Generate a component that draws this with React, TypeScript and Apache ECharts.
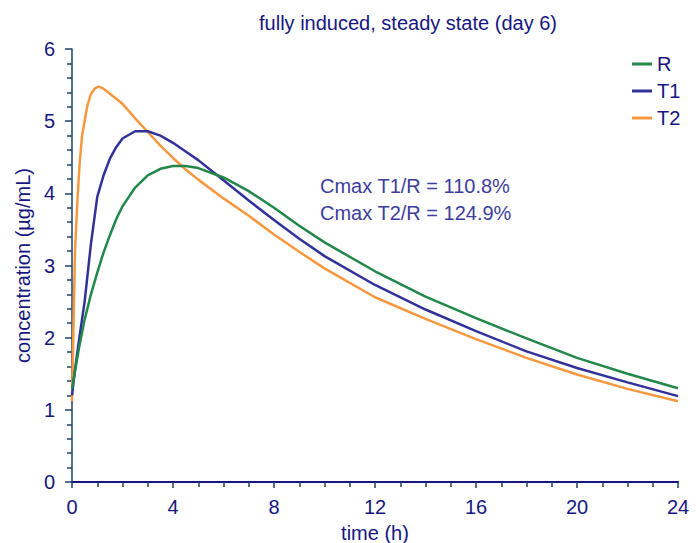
import React, { useEffect, useRef } from "react";
import * as echarts from "echarts";

const title = "fully induced, steady state (day 6)";
const xName = "time (h)";
const yName = "concentration (µg/mL)";
const annotations = ["Cmax T1/R = 110.8%", "Cmax T2/R = 124.9%"];

const timesR = [0, 0.1, 0.2, 0.3, 0.5, 0.75, 1, 1.25, 1.5, 1.75, 2, 2.5, 3, 3.5, 4, 4.5, 5, 6, 7, 8, 9, 10, 12, 14, 16, 18, 20, 22, 24];
const valuesR = [1.29, 1.5, 1.7, 1.9, 2.25, 2.6, 2.9, 3.18, 3.42, 3.64, 3.82, 4.08, 4.25, 4.34, 4.38, 4.38, 4.35, 4.22, 4.03, 3.8, 3.55, 3.32, 2.92, 2.57, 2.27, 1.99, 1.72, 1.5, 1.3];

const timesT1 = [0, 0.1, 0.25, 0.5, 0.75, 1, 1.25, 1.5, 1.75, 2, 2.5, 3, 3.5, 4, 4.5, 5, 6, 7, 8, 9, 10, 12, 14, 16, 18, 20, 22, 24];
const valuesT1 = [1.2, 1.5, 1.9, 2.5, 3.3, 3.95, 4.25, 4.48, 4.64, 4.76, 4.86, 4.86, 4.8, 4.7, 4.58, 4.46, 4.18, 3.9, 3.63, 3.37, 3.13, 2.73, 2.39, 2.09, 1.81, 1.58, 1.38, 1.19];

const timesT2 = [0, 0.05, 0.12, 0.2, 0.3, 0.4, 0.5, 0.6, 0.75, 0.9, 1.05, 1.25, 1.5, 2, 2.5, 3, 3.5, 4, 4.5, 5, 6, 7, 8, 9, 10, 12, 14, 16, 18, 20, 22, 24];
const valuesT2 = [1.12, 2.0, 3.2, 3.8, 4.4, 4.8, 5.0, 5.2, 5.38, 5.45, 5.48, 5.45, 5.38, 5.24, 5.04, 4.85, 4.66, 4.49, 4.33, 4.19, 3.93, 3.69, 3.43, 3.19, 2.96, 2.56, 2.26, 1.98, 1.72, 1.49, 1.29, 1.12];

const seriesNames = ["R", "T1", "T2"];
const seriesColors = ["#21884a", "#31319a", "#f7983f"];

const navy = "#16167f";
const axisY = "#1d4168";

function pairs(t: number[], v: number[]) {
  return t.map((x, i) => [x, v[i]]);
}

export default function App() {
  const ref = useRef<HTMLDivElement>(null);
  useEffect(() => {
    document.body.style.margin = "0";
    const chart = echarts.init(ref.current!, null, { renderer: "svg" });
    const font = "'Liberation Sans', Arial, sans-serif";
    const data = [pairs(timesR, valuesR), pairs(timesT1, valuesT1), pairs(timesT2, valuesT2)];
    chart.setOption({
      animation: false,
      backgroundColor: "#ffffff",
      textStyle: { fontFamily: font },
      title: {
        text: title,
        left: 403,
        textAlign: "center",
        top: 8,
        textStyle: { fontFamily: font, fontSize: 20, fontWeight: "normal", color: navy },
      },
      grid: { left: 72, right: 22, top: 49, bottom: 61, containLabel: false, outerBoundsMode: "none" },
      legend: {
        orient: "vertical",
        left: 627,
        top: 49,
        itemGap: 7,
        itemWidth: 20,
        itemHeight: 3,
        icon: "rect",
        data: seriesNames,
        textStyle: { fontFamily: font, fontSize: 20, color: navy },
      },
      xAxis: {
        type: "value",
        min: 0,
        max: 24,
        interval: 4,
        name: xName,
        nameLocation: "middle",
        nameGap: 41,
        nameTextStyle: { fontFamily: font, fontSize: 20, color: navy },
        axisLine: { show: true, lineStyle: { color: navy, width: 2 } },
        axisTick: { show: true, length: 6, lineStyle: { color: axisY, width: 1.5 } },
        minorTick: { show: true, splitNumber: 4, length: 5, lineStyle: { color: axisY, width: 1.5 } },
        axisLabel: { fontFamily: font, fontSize: 20, color: navy, margin: 15 },
        splitLine: { show: false },
      },
      yAxis: {
        type: "value",
        min: 0,
        max: 6,
        interval: 1,
        name: yName,
        nameLocation: "middle",
        nameGap: 30,
        nameTextStyle: { fontFamily: font, fontSize: 20, color: navy },
        axisLine: { show: true, lineStyle: { color: axisY, width: 1.5 } },
        axisTick: { show: true, length: 7, lineStyle: { color: axisY, width: 1.5 } },
        minorTick: { show: true, splitNumber: 5, length: 5, lineStyle: { color: axisY, width: 1.5 } },
        axisLabel: { fontFamily: font, fontSize: 20, color: navy, margin: 17 },
        splitLine: { show: false },
      },
      series: seriesNames.map((name, i) => ({
        name,
        type: "line",
        data: data[i],
        showSymbol: false,
        symbol: "none",
        smooth: false,
        color: seriesColors[i],
        lineStyle: { color: seriesColors[i], width: 2.5 },
        z: 3 - i,
      })),
      graphic: annotations.map((t, i) => ({
        type: "text",
        left: 320,
        top: 176 + i * 27,
        style: { text: t, fontFamily: font, fontSize: 20, fill: "#3d3d9c" },
      })),
    });
    return () => chart.dispose();
  }, []);
  return <div ref={ref} style={{ width: 700, height: 543 }} />;
}
